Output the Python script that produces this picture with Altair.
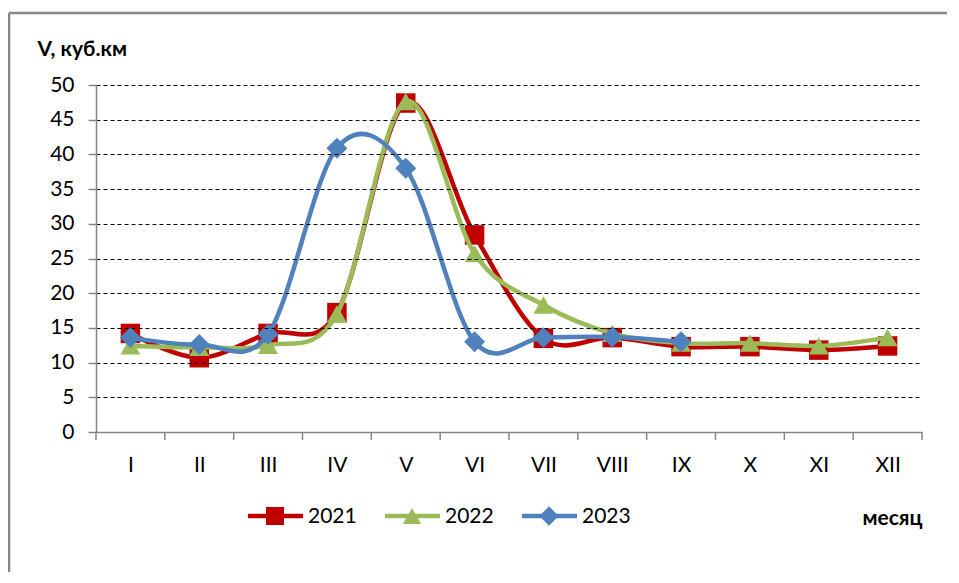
import altair as alt
import pandas as pd

months = ["I", "II", "III", "IV", "V", "VI", "VII", "VIII", "IX", "X", "XI", "XII"]
years = ["2021", "2022", "2023"]
v2021 = [14.2, 10.7, 14.2, 17.2, 47.4, 28.4, 13.5, 13.6, 12.3, 12.3, 11.8, 12.4]
v2022 = [12.4, 12.2, 12.5, 17.0, 47.6, 25.7, 18.3, 14.2, 12.8, 12.8, 12.4, 13.6]
v2023 = [13.6, 12.6, 14.1, 40.9, 38.0, 13.0, 13.6, 13.7, 13.0]
y_ticks = [0, 5, 10, 15, 20, 25, 30, 35, 40, 45, 50]

colors = ["#C00000", "#9BBB59", "#4F81BD"]
shapes = ["square", "triangle-up", "diamond"]
sizes = [380, 400, 440]

FONT = "Lato"
W, H = 826, 347
GRAY = "#868686"

rows = []
for yr, vals in zip(years, [v2021, v2022, v2023]):
    for i, v in enumerate(vals):
        rows.append({"year": yr, "m": i + 1, "month": months[i], "v": v})
df = pd.DataFrame(rows)

label_expr = "[" + ",".join("'" + m + "'" for m in months) + "][datum.value - 1]"

x_enc = alt.X(
    "m:Q",
    scale=alt.Scale(domain=[0.5, len(months) + 0.5], nice=False, zero=False),
    axis=alt.Axis(
        values=list(range(1, len(months) + 1)),
        labelExpr=label_expr,
        ticks=False,
        grid=False,
        domainColor=GRAY,
        domainWidth=1.5,
        labelFont=FONT,
        labelFontSize=21,
        labelColor="#000",
        labelPadding=22,
        title="месяц",
        titleFont=FONT,
        titleFontSize=21,
        titleFontWeight="bold",
        titleColor="#000",
        titleAnchor="end",
        titleAlign="right",
        titleBaseline="alphabetic",
        titleX=W,
        titleY=92,
        zindex=2,
    ),
)
y_enc = alt.Y(
    "v:Q",
    scale=alt.Scale(domain=[0, 50], nice=False),
    axis=alt.Axis(
        values=y_ticks,
        grid=True,
        gridColor="#000",
        gridDash=[4, 3],
        gridWidth=1,
        domainColor=GRAY,
        domainWidth=1.5,
        tickColor=GRAY,
        tickSize=8,
        tickWidth=1.5,
        labelFont=FONT,
        labelFontSize=21,
        labelColor="#000",
        labelPadding=14,
        title="V, куб.км",
        titleFont=FONT,
        titleFontSize=21,
        titleFontWeight="bold",
        titleColor="#000",
        titleAngle=0,
        titleAlign="left",
        titleBaseline="alphabetic",
        titleX=-59,
        titleY=-30,
        zindex=1,
    ),
)

layers = []
# x tick marks between categories
tick_df = pd.DataFrame({"m": [i + 0.5 for i in range(len(months) + 1)]})
layers.append(
    alt.Chart(tick_df).mark_rule(color=GRAY, strokeWidth=1.5).encode(
        x=alt.X("m:Q"), y=alt.value(H), y2=alt.value(H + 8)
    )
)

for i, yr in enumerate(years):
    base = alt.Chart(df[df.year == yr])
    layers.append(
        base.mark_line(interpolate="cardinal", tension=0, color=colors[i], strokeWidth=4.5).encode(
            x=x_enc, y=y_enc
        )
    )
    layers.append(
        base.mark_point(shape=shapes[i], filled=True, size=sizes[i], color=colors[i], opacity=1).encode(
            x=x_enc, y=y_enc
        )
    )

# manual legend
leg_y = 431
leg_x0 = 152
leg_step = 137
for i, yr in enumerate(years):
    one = alt.Chart(pd.DataFrame({"year": [yr]}))
    lx = leg_x0 + i * leg_step
    layers.append(
        one.mark_rule(color=colors[i], strokeWidth=4.5).encode(
            x=alt.value(lx), x2=alt.value(lx + 55), y=alt.value(leg_y)
        )
    )
    layers.append(
        one.mark_point(shape=shapes[i], filled=True, size=sizes[i] * 0.85, color=colors[i], opacity=1).encode(
            x=alt.value(lx + 27), y=alt.value(leg_y)
        )
    )
    layers.append(
        one.mark_text(font=FONT, fontSize=21, align="left", baseline="middle", color="#000").encode(
            x=alt.value(lx + 60), y=alt.value(leg_y + 1), text="year:N"
        )
    )

# chart-area border (left and top edges visible)
one = alt.Chart(pd.DataFrame({"a": [0]}))
layers.append(
    one.mark_rule(color=GRAY, strokeWidth=2.5).encode(
        x=alt.value(-87), y=alt.value(-72), y2=alt.value(H + 150)
    )
)
layers.append(
    one.mark_rule(color=GRAY, strokeWidth=2.5).encode(
        x=alt.value(-87), x2=alt.value(W + 60), y=alt.value(-72)
    )
)

chart = (
    alt.layer(*layers)
    .properties(
        width=W,
        height=H,
        autosize=alt.AutoSizeParams(type="none"),
        padding={"left": 88, "top": 77, "right": 25, "bottom": 140},
        background="white",
    )
    .configure_view(stroke=None)
)

chart.save("out.html", embed_options={"renderer": "svg", "actions": False})
